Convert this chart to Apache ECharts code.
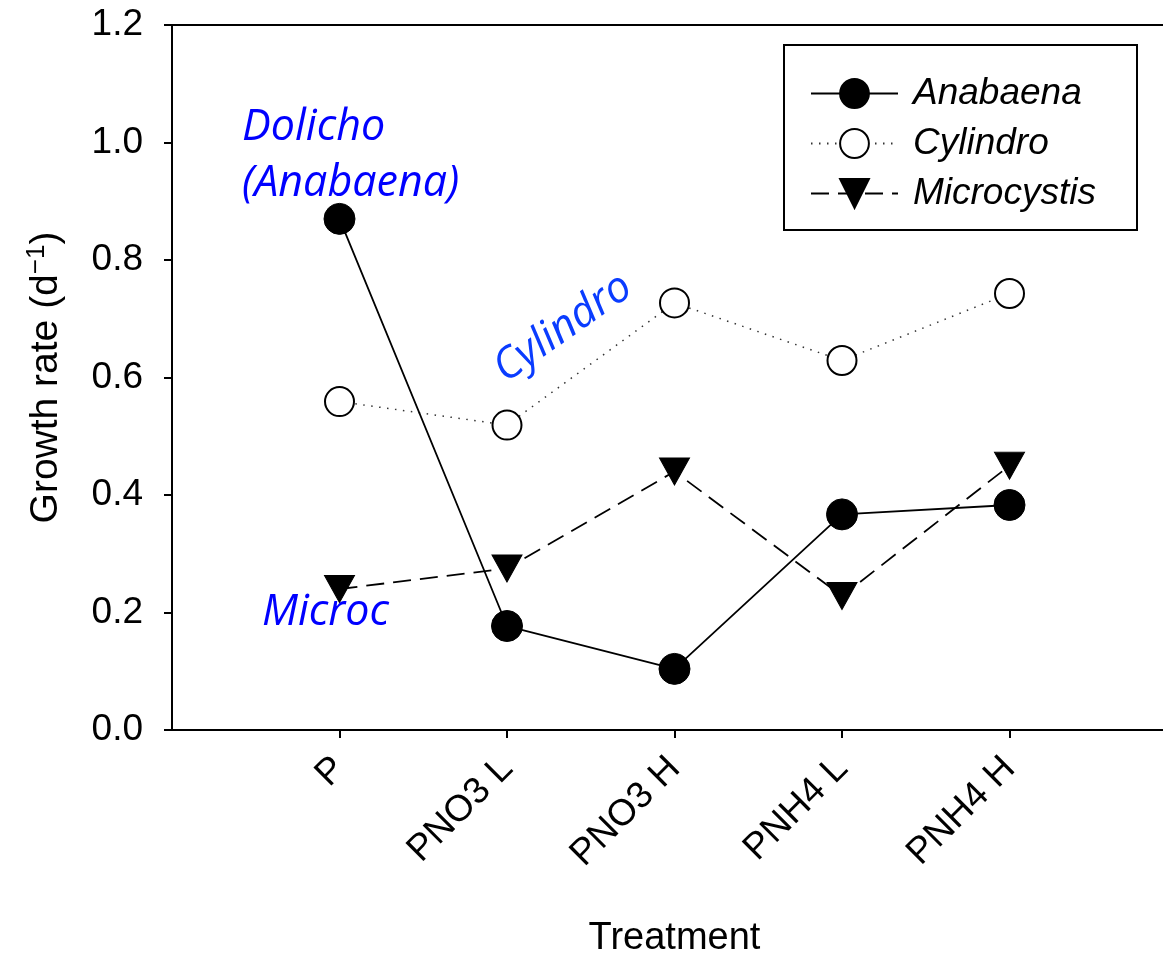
<!DOCTYPE html>
<html>
<head>
<meta charset="utf-8">
<script src="https://cdn.jsdelivr.net/npm/echarts@6/dist/echarts.min.js"></script>
<style>html,body{margin:0;padding:0;background:#fff;}#c{width:1163px;height:956px;}</style>
</head>
<body>
<div id="c"></div>
<script>
// ---- data ----
const categories = ['P', 'PNO3 L', 'PNO3 H', 'PNH4 L', 'PNH4 H'];
const anabaena = [0.870, 0.177, 0.104, 0.367, 0.383];
const cylindro = [0.559, 0.519, 0.727, 0.629, 0.743];
const microcystis = [0.240, 0.275, 0.440, 0.228, 0.450];
const yTicks = [0, 0.2, 0.4, 0.6, 0.8, 1.0, 1.2];
const seriesNames = ['Anabaena', 'Cylindro', 'Microcystis'];

const axisCats = [''].concat(categories, ['']);
const pairs = vals => categories.map((c, i) => [c, vals[i]]);

const chart = echarts.init(document.getElementById('c'), null, {renderer: 'canvas'});
const AX = '"Liberation Sans", Arial, sans-serif';
const ANN = '"Open Sans", sans-serif';

chart.setOption({
  animation: false,
  backgroundColor: '#fff',
  grid: {left: 172, top: 25, width: 1005, height: 705, show: true, borderColor: '#000', borderWidth: 2,
         containLabel: false, outerBoundsMode: 'none'},
  xAxis: {
    type: 'category', data: axisCats, boundaryGap: false,
    name: 'Treatment', nameLocation: 'middle', nameGap: 190,
    nameTextStyle: {fontFamily: AX, fontSize: 38, color: '#000'},
    axisLine: {lineStyle: {color: '#000', width: 2}},
    axisTick: {show: true, length: 8, lineStyle: {color: '#000', width: 2},
      interval: (i, v) => v !== ''},
    axisLabel: {rotate: 45, margin: 33, interval: 0, fontFamily: AX, fontSize: 37, color: '#000'},
    splitLine: {show: false}
  },
  yAxis: {
    type: 'value', min: yTicks[0], max: yTicks[yTicks.length - 1], interval: 0.2,
    name: '{a|Growth rate (d}{s|\u22121}{a|)}', nameLocation: 'middle', nameGap: 104, nameRotate: 90,
    nameTextStyle: {rich: {
      a: {fontFamily: AX, fontSize: 39, color: '#000', lineHeight: 44},
      s: {fontFamily: AX, fontSize: 26, color: '#000', verticalAlign: 'top', lineHeight: 44}
    }},
    axisLine: {show: true, lineStyle: {color: '#000', width: 2}},
    axisTick: {show: true, length: 8, lineStyle: {color: '#000', width: 2}},
    axisLabel: {margin: 29, fontFamily: AX, fontSize: 37, color: '#000', formatter: v => v.toFixed(1)},
    splitLine: {show: false}
  },
  legend: {
    orient: 'vertical', left: 805, top: 70, itemWidth: 87, itemHeight: 36, itemGap: 13,
    data: seriesNames,
    textStyle: {fontFamily: AX, fontSize: 37, fontStyle: 'italic', color: '#000', padding: [0, 0, 0, 10]}
  },
  series: [
    {
      name: seriesNames[0], type: 'line', data: pairs(anabaena),
      symbol: 'circle', symbolSize: 31,
      itemStyle: {color: '#000', borderColor: '#000', borderWidth: 1},
      lineStyle: {color: '#000', width: 1.8, type: 'solid'}, z: 3
    },
    {
      name: seriesNames[1], type: 'line', data: pairs(cylindro),
      symbol: 'circle', symbolSize: 29,
      itemStyle: {color: '#fff', borderColor: '#000', borderWidth: 2},
      lineStyle: {color: '#333', width: 1.5, type: [1.5, 6.5]}, z: 2
    },
    {
      name: seriesNames[2], type: 'line', data: pairs(microcystis),
      symbol: 'triangle', symbolSize: [30, 27], symbolRotate: 180,
      itemStyle: {color: '#000', borderColor: '#000', borderWidth: 1},
      lineStyle: {color: '#000', width: 1.8, type: [18, 9]}, z: 4
    }
  ],
  graphic: [
    {type: 'rect', shape: {x: 784, y: 45, width: 353, height: 185}, style: {fill: 'none', stroke: '#000', lineWidth: 2}, z: 10},
    {type: 'text', x: 242, y: 100, style: {text: 'Dolicho\n(Anabaena)', font: 'italic 43px ' + ANN, fill: '#0000ff', lineHeight: 56, align: 'left', verticalAlign: 'top'}, z: 10},
    {type: 'text', x: 563, y: 328, rotation: 35 * Math.PI / 180, style: {text: 'Cylindro', font: 'italic 43px ' + ANN, fill: '#0a3cff', align: 'center', verticalAlign: 'middle'}, z: 10},
    {type: 'text', x: 262, y: 613, style: {text: 'Microc', font: 'italic 43px ' + ANN, fill: '#0000ff', align: 'left', verticalAlign: 'middle'}, z: 10}
  ]
});
</script>
</body>
</html>
